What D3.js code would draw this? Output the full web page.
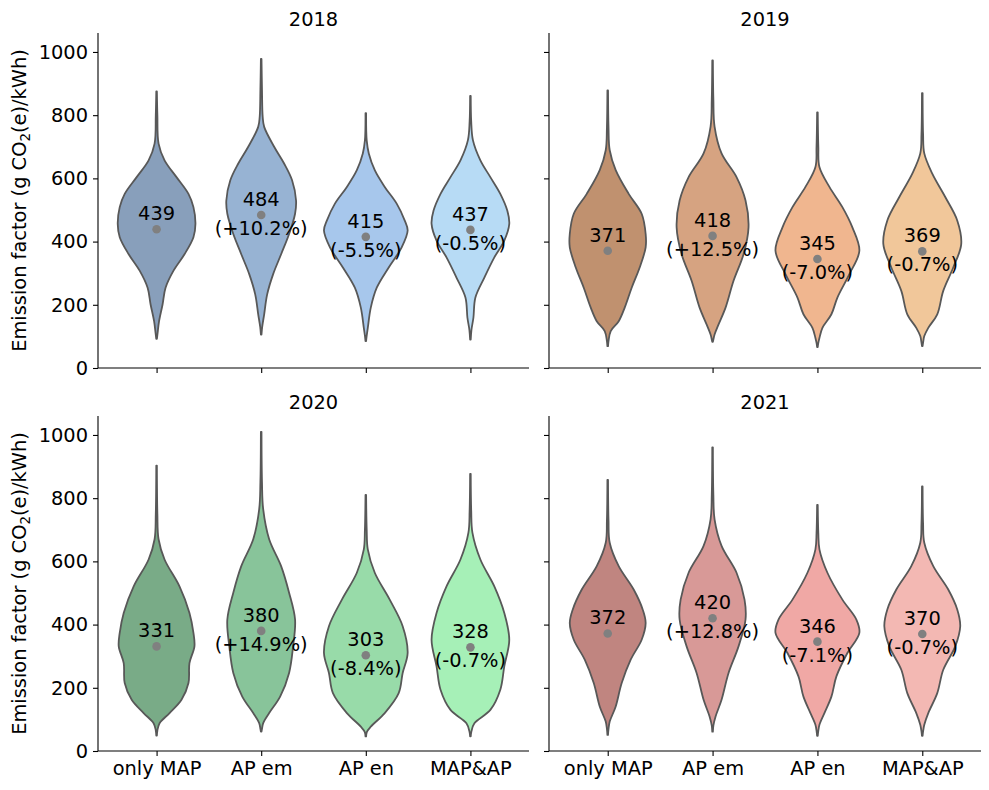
<!DOCTYPE html>
<html>
<head>
<meta charset="utf-8">
<script src="https://cdn.jsdelivr.net/npm/d3@7"></script>
<style>
  body { margin: 0; background: #fff; }
  text { font-family: "DejaVu Sans", sans-serif; fill: #000; }
</style>
</head>
<body>
<div id="chart"></div>
<script>
// categories + ticks
const categories = ['only MAP', 'AP em', 'AP en', 'MAP&AP']
const years = ['2018', '2019', '2020', '2021']
const yTicks = [0, 200, 400, 600, 800, 1000]

// medians (g CO2(e)/kWh)
const median2018 = [439, 484, 415, 437]
const median2019 = [371, 418, 345, 369]
const median2020 = [331, 380, 303, 328]
const median2021 = [372, 420, 346, 370]

// change vs only MAP
const change2018 = ['', '(+10.2%)', '(-5.5%)', '(-0.5%)']
const change2019 = ['', '(+12.5%)', '(-7.0%)', '(-0.7%)']
const change2020 = ['', '(+14.9%)', '(-8.4%)', '(-0.7%)']
const change2021 = ['', '(+12.8%)', '(-7.1%)', '(-0.7%)']

// palettes
const colors2018 = ['#889fbb', '#97b3d3', '#a7c7ec', '#b7dbf5']
const colors2019 = ['#c0916f', '#d6a381', '#f0b68f', '#f1c79a']
const colors2020 = ['#79ab87', '#88c49a', '#98dba9', '#a6f0b7']
const colors2021 = ['#c08580', '#d89997', '#f0a8a5', '#f3b8b3']

// violin profiles, [value, density] read top to bottom
const density2018 = [
  [[875,0.3],[800,0.8],[710,2],[657,8],[604,20],[551,32],[509,37],[456,39],[414,37],[360,28],[308,17],[254,9],[201,6],[148,2.5],[110,1],[92,0.3]],
  [[978,0.3],[880,0.8],[795,1.5],[763,3],[700,13],[647,23],[594,31],[530,35],[488,34],[424,28],[360,20],[297,12],[233,6],[170,3],[130,1],[106,0.3]],
  [[806,0.3],[720,0.9],[679,3],[626,9],[573,19],[520,31],[467,39],[435,42],[382,36],[318,23],[254,11],[191,5],[127,2],[100,0.8],[85,0.3]],
  [[861,0.3],[780,0.8],[721,2.5],[657,10],[604,20],[551,30],[498,37],[456,39],[403,34],[350,24],[286,14],[223,5],[159,3],[120,1],[90,0.3]]
]
const density2019 = [
  [[878,0.3],[760,0.8],[689,2],[626,8],[551,21],[488,34],[424,38],[382,38],[318,32],[254,24],[191,17],[148,11],[117,3],[85,0.8],[69,0.3]],
  [[973,0.3],[850,0.8],[764,2],[679,9],[604,24],[530,33],[445,36],[360,31],[276,21],[191,13],[138,6],[106,2],[90,0.8],[83,0.3]],
  [[809,0.3],[700,0.9],[636,2],[573,12],[509,25],[445,35],[371,42],[297,32],[223,20],[170,14],[127,5],[95,2],[78,0.8],[66,0.3]],
  [[870,0.3],[740,0.8],[679,2],[615,10],[541,23],[467,35],[392,39],[318,31],[244,21],[170,15],[127,6],[101,2],[80,0.8],[69,0.3]]
]
const density2020 = [
  [[903,0.3],[750,0.8],[670,2],[606,8],[521,23],[437,33],[374,37],[331,38],[278,33],[215,32],[162,25],[120,13],[88,3],[65,0.8],[49,0.3]],
  [[1010,0.3],[850,0.8],[765,2],[670,8],[585,20],[501,28],[416,34],[331,32],[247,28],[172,19],[120,8],[88,2],[70,0.8],[61,0.3]],
  [[810,0.3],[700,0.9],[638,2],[564,9],[479,24],[395,37],[310,42],[247,37],[183,33],[120,19],[77,5],[60,1],[46,0.3]],
  [[877,0.3],[760,0.8],[691,2],[606,10],[521,24],[437,34],[352,39],[268,34],[194,30],[130,20],[88,4],[62,1],[46,0.3]]
]
const density2021 = [
  [[858,0.3],[730,0.8],[659,2],[585,11],[511,26],[448,35],[405,38],[352,34],[289,23],[215,14],[141,8],[93,2],[70,0.8],[51,0.3]],
  [[961,0.3],[810,0.8],[733,2],[649,9],[564,24],[479,32],[416,33],[331,26],[247,16],[162,9],[109,3],[80,0.8],[61,0.3]],
  [[779,0.3],[690,0.9],[638,2],[564,10],[479,25],[416,39],[374,42],[310,30],[236,19],[172,14],[120,7],[83,2],[62,0.8],[48,0.3]],
  [[837,0.3],[720,0.8],[659,2],[585,11],[511,26],[448,35],[395,38],[331,33],[257,21],[183,15],[120,6],[83,2],[62,0.8],[48,0.3]]
]

const medians = [median2018, median2019, median2020, median2021]
const changes = [change2018, change2019, change2020, change2021]
const palettes = [colors2018, colors2019, colors2020, colors2021]
const densities = [density2018, density2019, density2020, density2021]

// dimension stuff
const width = 989
const height = 790
const fontSize = 19.4
const lineGap = 29
const cols = [{ left: 98, right: 529 }, { left: 549, right: 981 }]
const rows = [{ top: 33, bottom: 368 }, { top: 416, bottom: 751 }]

const $svg = d3.select('#chart').append('svg')
  .attr('width', width)
  .attr('height', height)

years.forEach((year, p) => {
  const col = cols[p % 2]
  const row = rows[Math.floor(p / 2)]
  const isLeft = p % 2 === 0
  const isBottom = p >= 2

  const scaleX = d3.scalePoint()
    .domain(categories)
    .range([col.left, col.right])
    .padding(0.56)

  const scaleY = d3.scaleLinear()
    .domain([0, 1060])
    .range([row.bottom, row.top])

  // density -> half width in px
  const scaleW = d3.scaleLinear()
    .domain([0, 42])
    .range([0, scaleX.step() * 0.4])

  const $g = $svg.append('g').attr('class', 'panel')
  const $vis = $g.append('g').attr('class', 'g-vis')

  categories.forEach((cat, i) => {
    const cx = scaleX(cat)
    const area = d3.area()
      .curve(d3.curveCatmullRom)
      .y(d => scaleY(d[0]))
      .x0(d => cx - scaleW(d[1]))
      .x1(d => cx + scaleW(d[1]))

    $vis.append('path')
      .attr('d', area(densities[p][i]))
      .attr('fill', palettes[p][i])
      .attr('stroke', '#585858')
      .attr('stroke-width', 1.8)
      .attr('stroke-linejoin', 'round')

    $vis.append('circle')
      .attr('cx', cx)
      .attr('cy', scaleY(medians[p][i]))
      .attr('r', 4.3)
      .attr('fill', '#808080')

    const $label = $vis.append('text')
      .attr('text-anchor', 'middle')
      .style('font-size', `${fontSize}px`)
    $label.append('tspan')
      .attr('x', cx)
      .attr('y', scaleY(medians[p][i]) - 9)
      .text(medians[p][i])
    if (changes[p][i]) {
      $label.append('tspan')
        .attr('x', cx)
        .attr('y', scaleY(medians[p][i]) - 9 + lineGap)
        .text(changes[p][i])
    }
  })

  // axes
  const axisY = d3.axisLeft(scaleY)
    .tickValues(yTicks)
    .tickSize(5)
    .tickPadding(5)
    .tickFormat(d => isLeft ? d : '')

  const axisX = d3.axisBottom(scaleX)
    .tickSize(5)
    .tickPadding(5)
    .tickFormat(d => isBottom ? d : '')

  const $axisY = $g.append('g')
    .attr('transform', `translate(${col.left},0)`)
    .call(axisY)
  $axisY.select('.domain').attr('d', `M0,${row.top}V${row.bottom}`)

  const $axisX = $g.append('g')
    .attr('transform', `translate(0,${row.bottom})`)
    .call(axisX)
  $axisX.select('.domain').attr('d', `M${col.left},0H${col.right}`)

  $g.selectAll('.domain, .tick line')
    .attr('stroke', '#000')
    .attr('stroke-width', 1.1)
  $g.selectAll('.tick text')
    .style('font-size', `${fontSize}px`)
    .style('font-family', '"DejaVu Sans", sans-serif')
    .attr('fill', '#000')

  // title
  $g.append('text')
    .attr('x', (col.left + col.right) / 2)
    .attr('y', row.top - 7)
    .attr('text-anchor', 'middle')
    .style('font-size', `${fontSize}px`)
    .text(year)

  // y label
  if (isLeft) {
    const $yl = $g.append('text')
      .attr('transform', `translate(26,${(row.top + row.bottom) / 2}) rotate(-90)`)
      .attr('text-anchor', 'middle')
      .style('font-size', `${fontSize}px`)
    $yl.append('tspan').text('Emission factor (g CO')
    $yl.append('tspan').attr('dy', 4).style('font-size', '13.5px').text('2')
    $yl.append('tspan').attr('dy', -4).text('(e)/kWh)')
  }
})
</script>
</body>
</html>
